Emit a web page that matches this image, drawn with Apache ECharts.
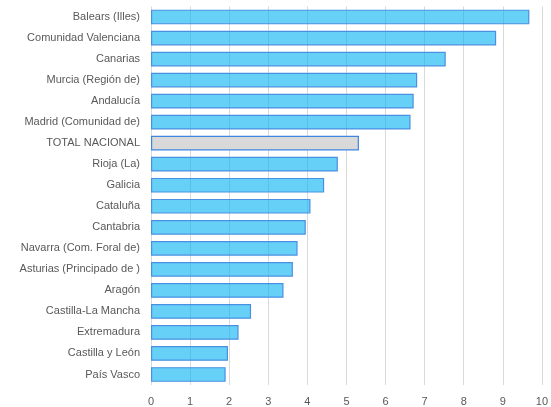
<!DOCTYPE html>
<html>
<head>
<meta charset="utf-8">
<script src="https://cdn.jsdelivr.net/npm/echarts@6/dist/echarts.min.js"></script>
<style>html,body{margin:0;padding:0;background:#fff}#c{width:551px;height:407px}</style>
</head>
<body>
<div id="c"></div>
<script>
const categories = ["Balears (Illes)","Comunidad Valenciana","Canarias","Murcia (Región de)","Andalucía","Madrid (Comunidad de)","TOTAL NACIONAL","Rioja (La)","Galicia","Cataluña","Cantabria","Navarra (Com. Foral de)","Asturias (Principado de )","Aragón","Castilla-La Mancha","Extremadura","Castilla y León","País Vasco"];
const values = [9.68,8.83,7.54,6.81,6.72,6.64,5.32,4.78,4.43,4.08,3.96,3.75,3.63,3.39,2.56,2.24,1.97,1.91];
const xTicks = [0,1,2,3,4,5,6,7,8,9,10];

const chart = echarts.init(document.getElementById('c'));
chart.setOption({
  animation: false,
  grid: {left: 151, right: 7, top: 6.5, bottom: 21.5, containLabel: false},
  xAxis: {
    type: 'value', min: 0, max: 10, interval: 1,
    axisLine: {show: false}, axisTick: {show: false},
    splitLine: {show: true, lineStyle: {color: '#d9d9d9', width: 1}},
    axisLabel: {color: '#595959', fontSize: 11, fontFamily: 'Liberation Sans', margin: 11,
      formatter: v => xTicks.includes(v) ? String(v) : ''}
  },
  yAxis: {
    type: 'category', data: categories, inverse: true,
    axisLine: {show: false}, axisTick: {show: false},
    axisLabel: {color: '#595959', fontSize: 11, fontFamily: 'Liberation Sans', margin: 11}
  },
  series: [{
    type: 'bar',
    data: values.map((v, i) => categories[i] === 'TOTAL NACIONAL'
      ? {value: v, itemStyle: {color: '#d9d9d9', borderColor: '#3f86e0', borderWidth: 1.2, opacity: 1}}
      : v),
    barCategoryGap: '30%',
    itemStyle: {color: 'rgba(0,176,240,0.6)', borderColor: '#4a90e2', borderWidth: 1.2}
  }]
});
</script>
</body>
</html>
